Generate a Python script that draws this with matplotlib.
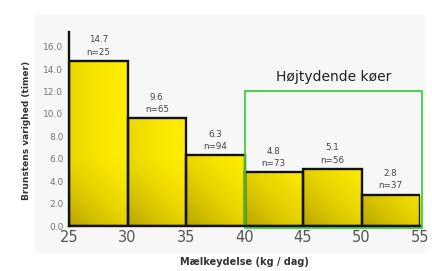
import numpy as np
import matplotlib
matplotlib.use("Agg")
import matplotlib.pyplot as plt
from matplotlib.colors import LinearSegmentedColormap
from matplotlib.patches import Rectangle

bin_edges = [25, 30, 35, 40, 45, 50, 55]
duration = [14.7, 9.6, 6.3, 4.8, 5.1, 2.8]
n_cows = [25, 65, 94, 73, 56, 37]
y_ticks = [0, 2, 4, 6, 8, 10, 12, 14, 16]
box_label = "Højtydende køer"

yellow = LinearSegmentedColormap.from_list(
    "yel", ["#b8a600", "#d4c000", "#e9d500", "#f7e400", "#ffee00"])


def main():
    fig = plt.figure(figsize=(4.32, 2.71), dpi=100)

    # faint grey panel behind the chart
    fig.patches.append(Rectangle((35 / 432, 1 - 253 / 271), 390 / 432, 238 / 271,
                                 transform=fig.transFigure, facecolor="#f7f7f7",
                                 edgecolor="none", zorder=-10))

    ax = fig.add_axes([69 / 432, 1 - 226 / 271, 351 / 432, 194 / 271])
    ax.set_facecolor("none")

    lefts = bin_edges[:-1]
    bars = ax.bar(lefts, duration, width=5, align="edge", facecolor="none",
                  edgecolor="#111111", linewidth=1.7, zorder=3)

    # gradient: bright top-right, darker towards left and bottom
    gx, gy = np.meshgrid(np.linspace(0, 1, 60), np.linspace(0, 1, 80))
    for bar in bars:
        x0, w, h = bar.get_x(), bar.get_width(), bar.get_height()
        px_h = h * 11.2
        g = 0.45 * gx + 0.55 * np.clip(gy * px_h / 70, 0, 1)
        g = np.clip(g, 0, 1)
        im = ax.imshow(g, cmap=yellow, vmin=0, vmax=1, origin="lower",
                       extent=[x0, x0 + w, 0, h], aspect="auto", zorder=2,
                       interpolation="bilinear")
        im.set_clip_path(bar)

    for x0, d, n in zip(lefts, duration, n_cows):
        ax.annotate(f"{d:.1f}\nn={n}", (x0 + 2.5, d), xytext=(0, 3),
                    textcoords="offset points", ha="center", va="bottom",
                    fontsize=6.3, color="#444444", linespacing=1.5)

    ax.add_patch(Rectangle((40, -0.2), 15.2, 12.2, facecolor="none",
                           edgecolor="#3fcf3f", linewidth=1.3, zorder=4,
                           clip_on=False))
    ax.text(47.6, 13.3, box_label, ha="center", va="center", fontsize=10,
            color="#222222")

    ax.set_xlim(25, 55)
    ax.set_ylim(0, 17.3)
    ax.set_xticks(bin_edges)
    ax.set_xticklabels([str(b) for b in bin_edges], fontsize=10.5, color="#555555")
    ax.set_yticks(y_ticks)
    ax.set_yticklabels([f"{t:.1f}" for t in y_ticks], fontsize=6.5, color="#777777")
    ax.tick_params(length=0, pad=4)
    ax.tick_params(axis="x", pad=3)

    for side in ["top", "right"]:
        ax.spines[side].set_visible(False)
    for side in ["left", "bottom"]:
        ax.spines[side].set_linewidth(1.7)
        ax.spines[side].set_color("#111111")
        ax.spines[side].set_zorder(5)

    fig.text(27 / 432, 1 - 130 / 271, "Brunstens varighed (timer)", rotation=90,
             ha="center", va="center", fontsize=6.5, fontweight="bold",
             color="#333333")
    fig.text(244 / 432, 1 - 262 / 271, "Mælkeydelse (kg / dag)", ha="center",
             va="center", fontsize=7, fontweight="bold", color="#333333")

    fig.savefig("out.png", dpi=100)


if __name__ == "__main__":
    main()
